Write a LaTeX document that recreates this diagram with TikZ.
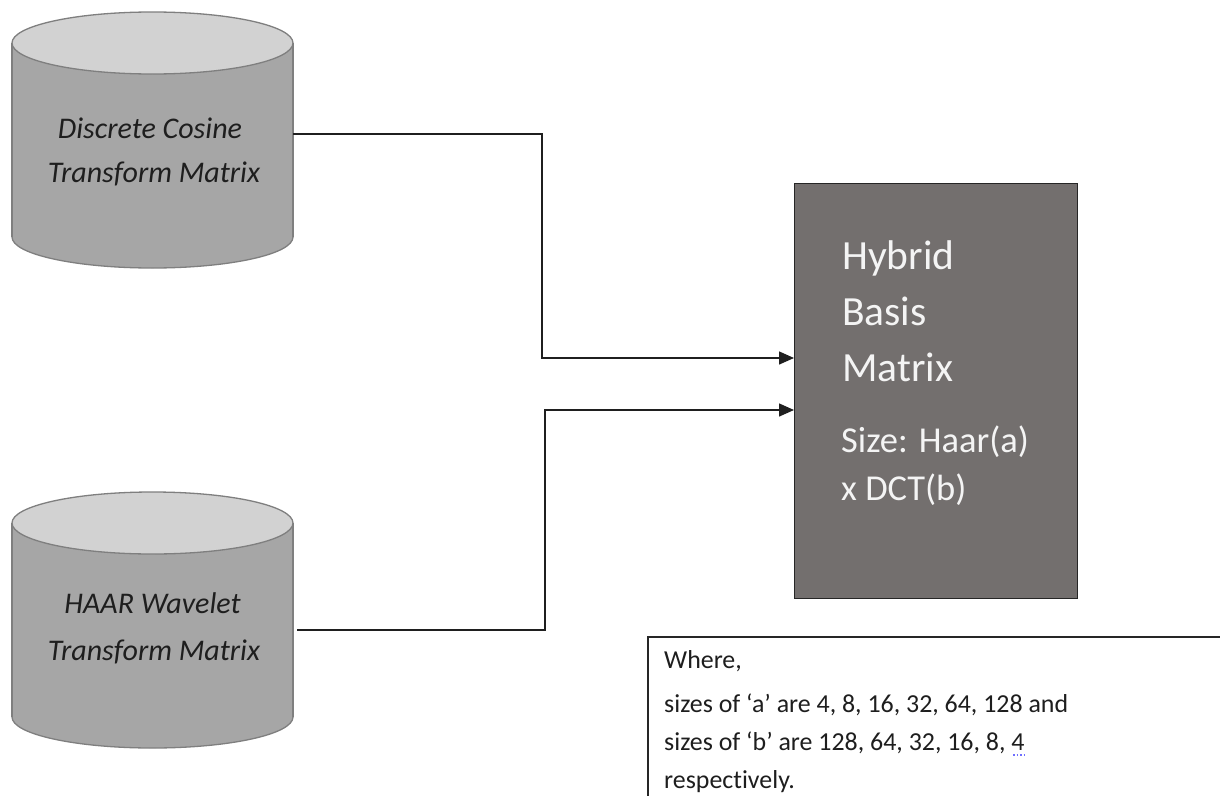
\documentclass[tikz,border=0pt]{standalone}
\usepackage{fontspec}
\setmainfont{Carlito}[Ligatures=NoCommon]
\usetikzlibrary{arrows.meta}
\definecolor{cylbody}{HTML}{A6A6A6}
\definecolor{cyltop}{HTML}{D2D2D2}
\definecolor{cylline}{HTML}{7F7F7F}
\definecolor{hybfill}{HTML}{736F6E}
\definecolor{hybtext}{HTML}{F4F4F4}
\definecolor{inktext}{HTML}{1E1E1E}
\definecolor{squiggle}{HTML}{6F6FFF}
\tikzset{
  cylbase/.style={fill=cylbody, draw=cylline, line width=1.3pt},
  cylcap/.style={fill=cyltop, draw=cylline, line width=1.3pt},
  cyltext/.style={font=\fontsize{30}{35}\selectfont\itshape, text=inktext, inner sep=0pt, anchor=base},
  hybbox/.style={fill=hybfill, draw=black!85, line width=1.4pt, inner sep=0pt, anchor=north west},
  hybbig/.style={font=\fontsize{41.5}{48}\selectfont, text=hybtext, inner sep=0pt, anchor=base west},
  hybsmall/.style={font=\fontsize{36.5}{42}\selectfont, text=hybtext, inner sep=0pt, anchor=base west},
  notetext/.style={font=\fontsize{25.9}{30}\selectfont, text=inktext, inner sep=0pt, anchor=base west},
  conn/.style={draw=black!88, line width=1.4pt, -{Triangle[length=15pt,width=13pt]}},
}
\begin{document}
\begin{tikzpicture}[x=1pt,y=-1pt]
\useasboundingbox (0,0) rectangle (1220,795);
\fill[white] (0,0) rectangle (1220,795);

% ---- DCT cylinder ----
\filldraw[cylbase] (152.5,237) ellipse [x radius=140.5, y radius=31];
\fill[cylbody] (12,43) rectangle (293,237);
\draw[cylline, line width=1.3pt] (12,43) -- (12,237) (293,43) -- (293,237);
\filldraw[cylcap] (152.5,43) ellipse [x radius=140.5, y radius=31];
\node[minimum width=281pt, minimum height=256pt, inner sep=0pt] (dct) at (152.5,140) {};
\node[cyltext] (dct1) at (150,138) {Discrete Cosine};
\node[cyltext] (dct2) at (154,182) {Transform Matrix};

% ---- HAAR cylinder ----
\filldraw[cylbase] (152.5,717) ellipse [x radius=140.5, y radius=31];
\fill[cylbody] (12,523) rectangle (293,717);
\draw[cylline, line width=1.3pt] (12,523) -- (12,717) (293,523) -- (293,717);
\filldraw[cylcap] (152.5,523) ellipse [x radius=140.5, y radius=31];
\node[minimum width=285pt, minimum height=256pt, inner sep=0pt] (haar) at (154.5,620) {};
\node[cyltext] (haar1) at (152.5,613) {HAAR Wavelet};
\node[cyltext] (haar2) at (154,660) {Transform Matrix};

% ---- Hybrid box ----
\node[hybbox, minimum width=283pt, minimum height=415pt] (hyb) at (794,183) {};
\node[hybbig] (h1) at (842,269) {Hybrid};
\node[hybbig] (h2) at (842,325) {Basis};
\node[hybbig] (h3) at (842,381) {Matrix};
\node[hybsmall] (h4) at (841,452) {Size: Haar(a)};
\node[hybsmall] (h5) at (841,500) {x DCT(b)};

% ---- connectors ----
\coordinate (ya) at (0,134);
\coordinate (yb) at (0,358);
\coordinate (yc) at (0,630);
\coordinate (yd) at (0,410);
\draw[conn] (dct.east |- ya) -| (542,358) -- (hyb.west |- yb);
\draw[conn] (haar.east |- yc) -| (545,410) -- (hyb.west |- yd);

% ---- note ----
\draw[black!85, line width=1.2pt] (648,800) -- (648,637) -- (1225,637);
\node[notetext] (n1) at (664,668) {Where,};
\node[notetext] (n2) at (664,712) {sizes of ‘a’ are 4, 8, 16, 32, 64, 128 and};
\node[notetext] (n3) at (664,750) {sizes of ‘b’ are 128, 64, 32, 16, 8, 4};
\node[notetext] (n4) at (664,788) {respectively.};
\draw[squiggle, line width=1.2pt, dash pattern=on 1.5pt off 2pt] (1013,755) -- (1027,755);
\end{tikzpicture}
\end{document}
